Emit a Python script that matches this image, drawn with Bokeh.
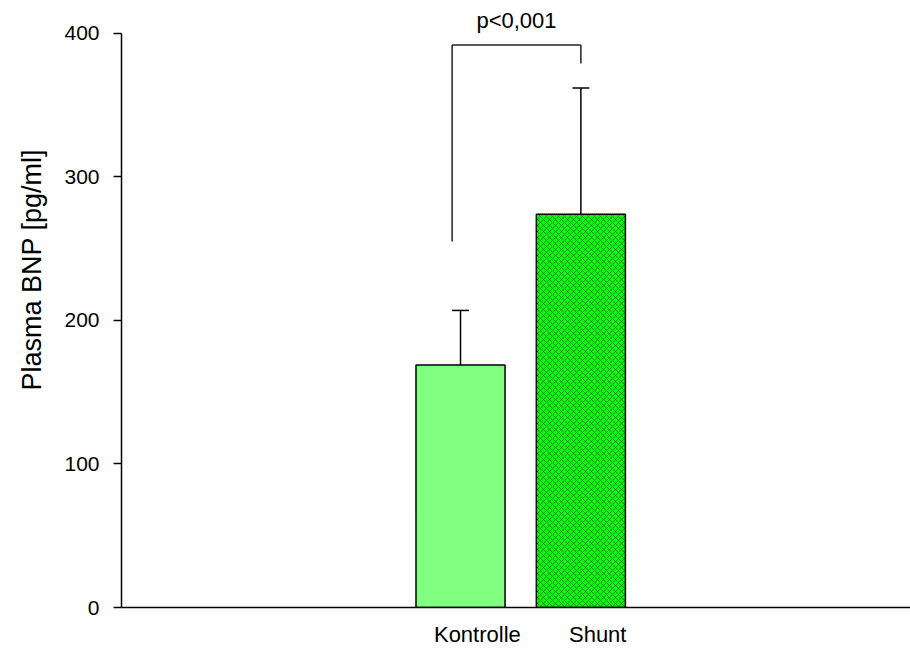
from bokeh.plotting import figure
from bokeh.models import ColumnDataSource, Whisker, TeeHead, FixedTicker, Range1d, Title
from bokeh.core.properties import value
from bokeh.embed import file_html
from bokeh.resources import INLINE

# ---- data ----
groups = ["Kontrolle", "Shunt"]
group_pos = [1, 2]
means = [169, 274]
errors = [38, 88]
y_ticks = [0, 100, 200, 300, 400]
y_title = "Plasma BNP [pg/ml]"
p_text = "p<0,001"
bracket_x = [0.93, 2.0]
bracket_top = 392
bracket_leg_bottoms = [255, 379]

FONT = "Liberation Sans"
LABEL_SHIFT = 0.14  # category labels sit slightly right of the bar centres

p = figure(width=910, height=649, output_backend="svg", toolbar_location=None,
           x_range=Range1d(-1.817, 4.739), y_range=Range1d(0, 417.4),
           min_border_left=120, min_border_right=0, min_border_top=8, min_border_bottom=40)
p.outline_line_color = None
p.xgrid.grid_line_color = None
p.ygrid.grid_line_color = None
p.background_fill_color = "white"
p.border_fill_color = "white"

# bars
src = ColumnDataSource(dict(x=group_pos, top=means,
                            upper=[m + e for m, e in zip(means, errors)]))
p.vbar(x=[group_pos[0]], top=[means[0]], width=0.74, fill_color="#80FF80",
       line_color="black", line_width=1.5)
p.vbar(x=[group_pos[1]], top=[means[1]], width=0.74, fill_color="#00FF00",
       line_color="black", line_width=1.5,
       hatch_pattern="diagonal_cross", hatch_color="black", hatch_scale=6,
       hatch_weight=0.7, hatch_alpha=0.65)

# error bars (upper only)
w = Whisker(base="x", lower="top", upper="upper", source=src,
            line_color="black", line_width=1.5,
            upper_head=TeeHead(size=17, line_width=1.5, line_color="black"),
            lower_head=None, level="overlay")
p.add_layout(w)

# significance bracket
p.segment(x0=[bracket_x[0], bracket_x[0], bracket_x[1]],
          y0=[bracket_top, bracket_top, bracket_top],
          x1=[bracket_x[1], bracket_x[0], bracket_x[1]],
          y1=[bracket_top, bracket_leg_bottoms[0], bracket_leg_bottoms[1]],
          line_color="#222222", line_width=1.5)
p.text(x=[(bracket_x[0] + bracket_x[1]) / 2], y=[bracket_top + 17], text=[p_text],
       text_align="center", text_baseline="alphabetic",
       text_font=value(FONT), text_font_size="22px", text_color="black")

# y axis title as a left-side title (offset from the bottom of the frame)
p.add_layout(Title(text=y_title, align="left", offset=217, standoff=29,
                   text_font=FONT, text_font_size="27px", text_font_style="normal",
                   text_color="black"), "left")

# y axis
ya = p.yaxis[0]
ya.ticker = FixedTicker(ticks=y_ticks)
ya.bounds = (0, 400)
ya.axis_line_width = 1.5
ya.major_tick_line_width = 1.5
ya.major_tick_out = 8
ya.major_tick_in = 0
ya.minor_tick_out = 0
ya.minor_tick_in = 0
ya.major_label_standoff = 14
ya.major_label_text_font = FONT
ya.major_label_text_font_size = "21px"
ya.major_label_text_color = "black"

# x axis
label_pos = [g + LABEL_SHIFT for g in group_pos]
xa = p.xaxis[0]
xa.ticker = FixedTicker(ticks=label_pos)
xa.major_label_overrides = {lp: n for lp, n in zip(label_pos, groups)}
xa.axis_line_width = 1.5
xa.major_tick_out = 0
xa.major_tick_in = 0
xa.minor_tick_out = 0
xa.minor_tick_in = 0
xa.major_label_standoff = 14
xa.major_label_text_font = FONT
xa.major_label_text_font_size = "22px"
xa.major_label_text_color = "black"

open("out.html", "w").write(file_html(p, INLINE))
